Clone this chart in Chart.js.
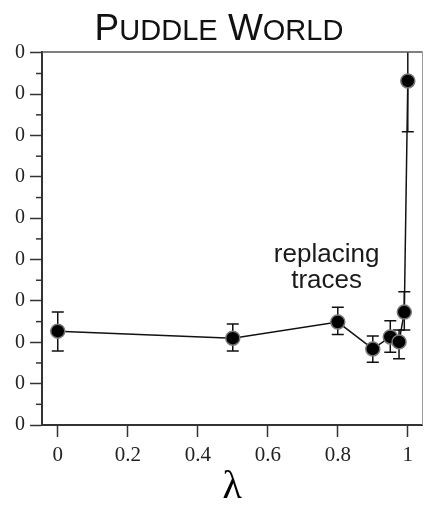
<!DOCTYPE html>
<html>
<head>
<meta charset="utf-8">
<script src="https://cdn.jsdelivr.net/npm/chart.js@4.4.1/dist/chart.umd.min.js"></script>
<style>
  html, body { margin: 0; padding: 0; background: #fff; }
  #wrap { position: relative; width: 431px; height: 505px; overflow: hidden; }
  #plot { position: absolute; left: 0; top: 0; }
  .title {
    position: absolute; left: 0; top: 9px; width: 438px;
    text-align: center; white-space: nowrap;
    font-family: "Liberation Sans", Arial, sans-serif;
    font-size: 37px; line-height: 37px; color: #111;
  }
  .title .sc { font-size: 29px; }
</style>
</head>
<body>
<div id="wrap">
  <canvas id="plot" width="431" height="505"></canvas>
  <div class="title">P<span class="sc">UDDLE</span> W<span class="sc">ORLD</span></div>
</div>
<script>
// values
const lambdas = [0, 0.5, 0.8, 0.9, 0.95, 0.975, 0.99, 1];
const cost    = [227, 210, 249, 184, 213, 201, 273, 832];
const errLow  = [179, 179, 219, 152, 176, 160, 230, 709];
const errHigh = [273, 244, 285, 215, 252, 230, 322, 955];

const xTickValues = [0, 0.2, 0.4, 0.6, 0.8, 1];
const yTickValues = [0, 100, 200, 300, 400, 500, 600, 700, 800, 900];
const yMinorTicks = [50, 150, 250, 350, 450, 550, 650, 750, 850];
const noteLines = ['replacing', 'traces'];

const serif = '"Liberation Serif", "Times New Roman", serif';
const sans = '"Liberation Sans", Arial, sans-serif';

// error bars, minor ticks, frame and the text note
const extras = {
  id: 'extras',
  beforeDatasetsDraw(chart) {
    const ctx = chart.ctx, area = chart.chartArea;
    const xs = chart.scales.x, ys = chart.scales.y;
    ctx.save();
    ctx.beginPath();
    ctx.rect(area.left, area.top, area.right - area.left, area.bottom - area.top);
    ctx.clip();
    ctx.strokeStyle = '#111';
    ctx.lineWidth = 1.5;
    lambdas.forEach((l, i) => {
      const x = xs.getPixelForValue(l);
      const y1 = ys.getPixelForValue(errLow[i]);
      const y2 = ys.getPixelForValue(errHigh[i]);
      ctx.beginPath();
      ctx.moveTo(x, y1); ctx.lineTo(x, y2);
      ctx.moveTo(x - 6, y1); ctx.lineTo(x + 6, y1);
      ctx.moveTo(x - 6, y2); ctx.lineTo(x + 6, y2);
      ctx.stroke();
    });
    ctx.restore();
  },
  afterDraw(chart) {
    const ctx = chart.ctx, area = chart.chartArea;
    const xs = chart.scales.x, ys = chart.scales.y;
    ctx.save();
    // frame top and right
    ctx.strokeStyle = '#555';
    ctx.lineWidth = 1.5;
    ctx.beginPath();
    ctx.moveTo(area.left, area.top); ctx.lineTo(area.right, area.top);
    ctx.stroke();
    ctx.strokeStyle = '#999';
    ctx.lineWidth = 1;
    ctx.beginPath();
    ctx.moveTo(area.right, area.top); ctx.lineTo(area.right, area.bottom);
    ctx.stroke();
    // minor ticks on y
    ctx.strokeStyle = '#333';
    ctx.lineWidth = 1.5;
    yMinorTicks.forEach(v => {
      const y = ys.getPixelForValue(v);
      ctx.beginPath();
      ctx.moveTo(area.left - 6, y); ctx.lineTo(area.left, y);
      ctx.stroke();
    });
    // note
    ctx.fillStyle = '#1a1a1a';
    ctx.font = '26px ' + sans;
    ctx.textAlign = 'center';
    ctx.textBaseline = 'alphabetic';
    const nx = xs.getPixelForValue(0.768);
    ctx.fillText(noteLines[0], nx, ys.getPixelForValue(394));
    ctx.fillText(noteLines[1], nx, ys.getPixelForValue(331));
    ctx.restore();
  }
};

new Chart(document.getElementById('plot'), {
  type: 'scatter',
  data: {
    datasets: [{
      data: lambdas.map((l, i) => ({ x: l, y: cost[i] })),
      showLine: true,
      borderColor: '#111',
      borderWidth: 1.5,
      pointRadius: 7,
      pointBackgroundColor: '#000',
      pointBorderColor: '#777',
      pointBorderWidth: 1.5
    }]
  },
  options: {
    responsive: false,
    animation: false,
    devicePixelRatio: 1,
    layout: { padding: { top: 52, right: 4, left: 0, bottom: 0 } },
    plugins: { legend: { display: false }, tooltip: { enabled: false }, title: { display: false } },
    scales: {
      x: {
        type: 'linear',
        min: -0.045,
        max: 1.042,
        afterBuildTicks: (scale) => { scale.ticks = xTickValues.map(v => ({ value: v })); },
        afterFit: (scale) => { scale.height = 80; },
        grid: { drawOnChartArea: false, tickLength: 12, tickColor: '#333', tickWidth: 1.5 },
        border: { color: '#333', width: 2 },
        ticks: { color: '#222', font: { family: serif, size: 21 }, padding: 6, maxRotation: 0,
                 callback: (v) => String(v) },
        title: { display: true, text: 'λ', color: '#000',
                 font: { family: serif, size: 40, lineHeight: 0.9 }, padding: { top: 0, bottom: 0 } }
      },
      y: {
        type: 'linear',
        min: 0,
        max: 902,
        afterBuildTicks: (scale) => { scale.ticks = yTickValues.map(v => ({ value: v })); },
        afterFit: (scale) => { scale.width = 42; },
        grid: { drawOnChartArea: false, tickLength: 12, tickColor: '#333', tickWidth: 1.5 },
        border: { color: '#333', width: 2 },
        // the source picture is cut at its left edge, only the last digit of each label shows
        ticks: { color: '#222', font: { family: serif, size: 20 }, padding: 5,
                 callback: (v) => String(v).slice(-1) }
      }
    }
  },
  plugins: [extras]
});
</script>
</body>
</html>
